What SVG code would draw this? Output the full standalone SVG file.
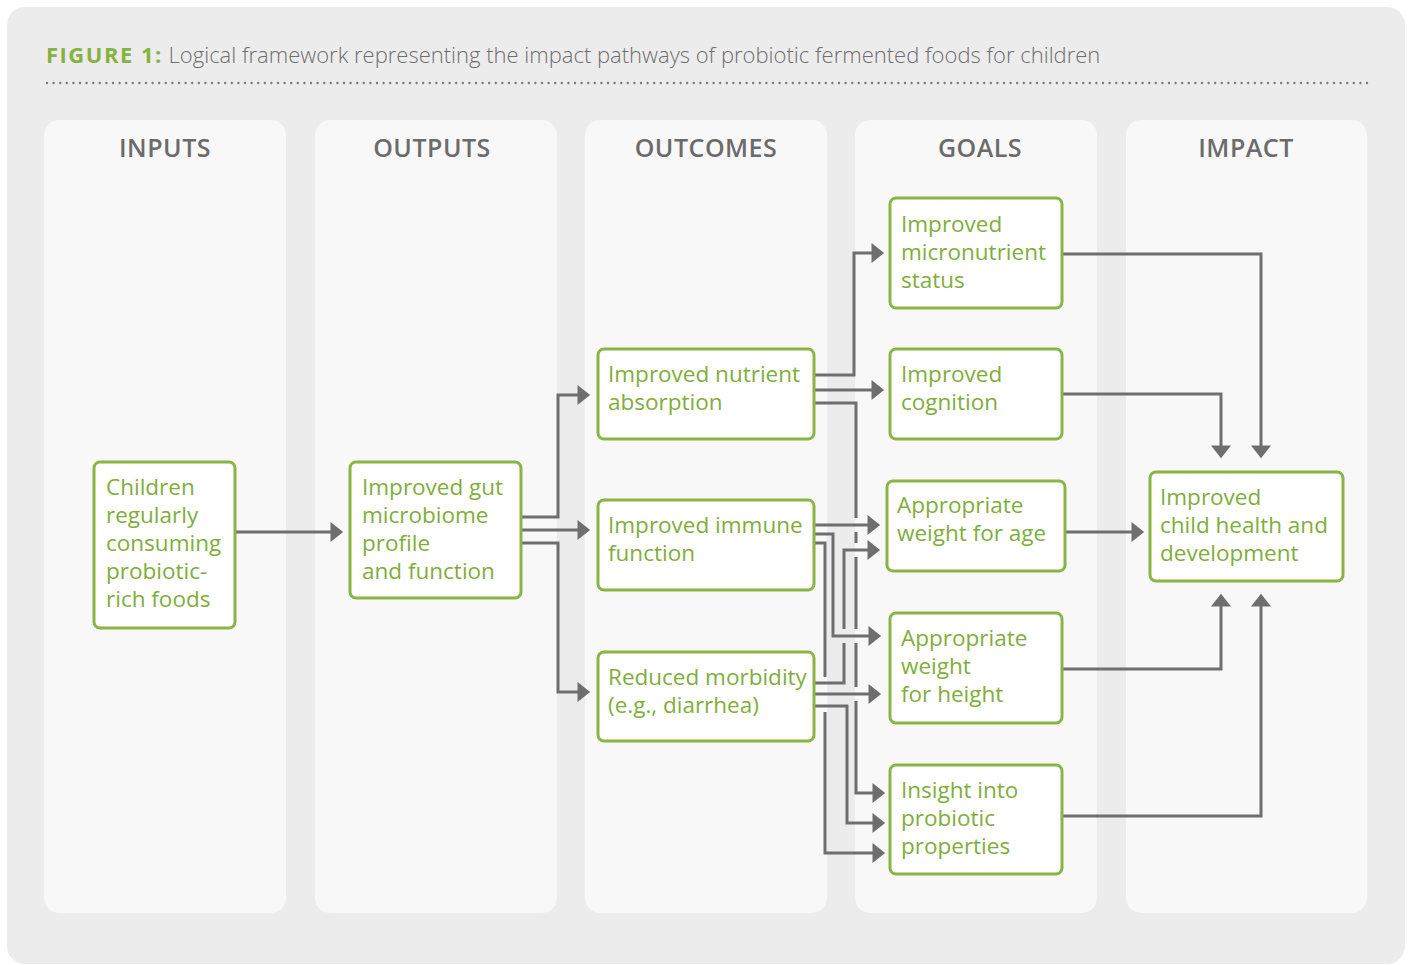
<svg xmlns="http://www.w3.org/2000/svg" width="1411" height="965" viewBox="0 0 1411 965">
<defs>
<style>
.frame{fill:#ececec}
.col{fill:#f8f8f8}
.hdr{font-family:"Open Sans","Noto Sans",sans-serif;font-weight:600;font-size:25px;fill:#6b6b6b;text-anchor:middle;letter-spacing:0.5px}
.box{fill:#ffffff;stroke:#8ab443;stroke-width:3}
.txt{font-family:"Open Sans","Noto Sans",sans-serif;font-size:22.5px;fill:#80ae3a}
.ln{fill:none;stroke:#6e6e6e;stroke-width:3}
.ar{fill:none;stroke:#6e6e6e;stroke-width:3;marker-end:url(#ah)}
.ttl{font-family:"Open Sans","Noto Sans",sans-serif;font-size:22px;fill:#6e6e6e;font-weight:300}
.fig{font-weight:700;fill:#86b33f;letter-spacing:1.5px}
</style>
<marker id="ah" markerUnits="userSpaceOnUse" markerWidth="14" markerHeight="20" viewBox="0 0 12 19" refX="9" refY="9.5" orient="auto">
<path d="M0,0 L12,9.5 L0,19 z" fill="#6e6e6e"/>
</marker>
</defs>
<rect width="1411" height="965" fill="#ffffff"/>
<rect class="frame" x="7" y="7" width="1398" height="957" rx="18"/>
<text class="ttl" x="46" y="63"><tspan class="fig">FIGURE 1:</tspan> Logical framework representing the impact pathways of probiotic fermented foods for children</text>
<line x1="47" y1="83" x2="1368" y2="83" stroke="#7a7a7a" stroke-width="2.4" stroke-linecap="round" stroke-dasharray="0 6.6"/>
<g id="columns">
<rect class="col" x="44" y="120" width="242" height="793" rx="15"/>
<rect class="col" x="315" y="120" width="242" height="793" rx="15"/>
<rect class="col" x="585" y="120" width="242" height="793" rx="15"/>
<rect class="col" x="855" y="120" width="242" height="793" rx="15"/>
<rect class="col" x="1126" y="120" width="241" height="793" rx="15"/>
<text class="hdr" x="165" y="157">INPUTS</text>
<text class="hdr" x="432" y="157">OUTPUTS</text>
<text class="hdr" x="706" y="157">OUTCOMES</text>
<text class="hdr" x="980" y="157">GOALS</text>
<text class="hdr" x="1246" y="157">IMPACT</text>
</g>
<g id="connectors">
<path class="ar" d="M236,532 H340"/>
<path class="ar" d="M522,517 H558 V395 H587"/>
<path class="ar" d="M522,530 H587"/>
<path class="ar" d="M522,543 H558 V692 H587"/>
<path class="ar" d="M815,375 H854 V253 H881"/>
<path class="ar" d="M815,390 H881"/>
<path class="ln" d="M815,403 H856 V518 M856,532 V543 M856,557 V629 M856,643 V687"/>
<path class="ar" d="M856,701 V793 H882"/>
<path class="ar" d="M815,525 H877"/>
<path class="ar" d="M815,534 H833 V636 H878"/>
<path class="ln" d="M815,543 H825 V677"/>
<path class="ar" d="M825,712 V853 H882"/>
<path class="ln" d="M815,683 H844 V643"/>
<path class="ar" d="M844,629 V550 H877"/>
<path class="ar" d="M815,694 H878"/>
<path class="ar" d="M815,706 H847 V823 H882"/>
<path class="ar" d="M1063,254 H1261 V455"/>
<path class="ar" d="M1063,394 H1221 V455"/>
<path class="ar" d="M1066,532 H1141"/>
<path class="ar" d="M1063,669 H1221 V597"/>
<path class="ar" d="M1063,816 H1261 V597"/>
</g>
<g id="n-inputs">
<rect class="box" x="94" y="462" width="141" height="166" rx="6"/>
<text class="txt" x="106" y="495"><tspan x="106">Children</tspan><tspan x="106" dy="28">regularly</tspan><tspan x="106" dy="28">consuming</tspan><tspan x="106" dy="28">probiotic-</tspan><tspan x="106" dy="28">rich foods</tspan></text>
</g>
<g id="n-gut">
<rect class="box" x="350" y="462" width="171" height="136" rx="6"/>
<text class="txt" x="362" y="495"><tspan x="362">Improved gut</tspan><tspan x="362" dy="28">microbiome</tspan><tspan x="362" dy="28">profile</tspan><tspan x="362" dy="28">and function</tspan></text>
</g>
<g id="n-nutrient">
<rect class="box" x="598" y="349" width="216" height="90" rx="6"/>
<text class="txt" x="608" y="382"><tspan x="608">Improved nutrient</tspan><tspan x="608" dy="28">absorption</tspan></text>
</g>
<g id="n-immune">
<rect class="box" x="598" y="500" width="216" height="90" rx="6"/>
<text class="txt" x="608" y="533"><tspan x="608">Improved immune</tspan><tspan x="608" dy="28">function</tspan></text>
</g>
<g id="n-morbidity">
<rect class="box" x="598" y="652" width="216" height="89" rx="6"/>
<text class="txt" x="608" y="685"><tspan x="608">Reduced morbidity</tspan><tspan x="608" dy="28">(e.g., diarrhea)</tspan></text>
</g>
<g id="n-micronutrient">
<rect class="box" x="890" y="198" width="172" height="110" rx="6"/>
<text class="txt" x="901" y="232"><tspan x="901">Improved</tspan><tspan x="901" dy="28">micronutrient</tspan><tspan x="901" dy="28">status</tspan></text>
</g>
<g id="n-cognition">
<rect class="box" x="890" y="349" width="172" height="90" rx="6"/>
<text class="txt" x="901" y="382"><tspan x="901">Improved</tspan><tspan x="901" dy="28">cognition</tspan></text>
</g>
<g id="n-wfa">
<rect class="box" x="887" y="481" width="178" height="90" rx="6"/>
<text class="txt" x="897" y="513"><tspan x="897">Appropriate</tspan><tspan x="897" dy="28">weight for age</tspan></text>
</g>
<g id="n-wfh">
<rect class="box" x="890" y="613" width="172" height="110" rx="6"/>
<text class="txt" x="901" y="646"><tspan x="901">Appropriate</tspan><tspan x="901" dy="28">weight</tspan><tspan x="901" dy="28">for height</tspan></text>
</g>
<g id="n-insight">
<rect class="box" x="890" y="765" width="172" height="109" rx="6"/>
<text class="txt" x="901" y="798"><tspan x="901">Insight into</tspan><tspan x="901" dy="28">probiotic</tspan><tspan x="901" dy="28">properties</tspan></text>
</g>
<g id="n-impact">
<rect class="box" x="1150" y="472" width="193" height="109" rx="6"/>
<text class="txt" x="1160" y="505"><tspan x="1160">Improved</tspan><tspan x="1160" dy="28">child health and</tspan><tspan x="1160" dy="28">development</tspan></text>
</g>
</svg>
